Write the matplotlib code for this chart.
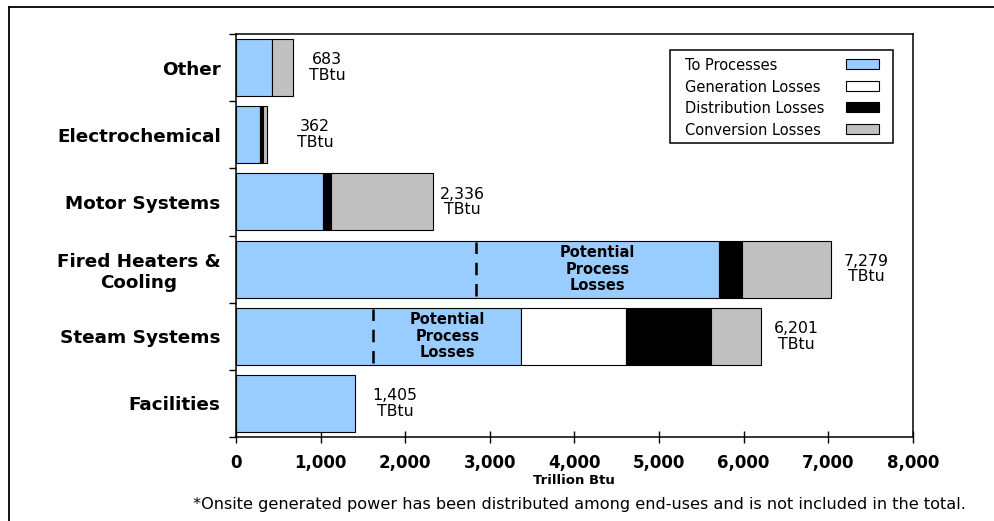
import matplotlib.pyplot as plt
import numpy as np
from matplotlib.patches import Rectangle
from matplotlib.lines import Line2D

plt.rcParams['font.family'] = ['DejaVu Sans']

# categories bottom -> top
categories = ['Facilities', 'Steam Systems', 'Fired Heaters &\nCooling',
              'Motor Systems', 'Electrochemical', 'Other']
to_processes = [1405, 3375, 5715, 1030, 285, 425]
generation_losses = [0, 1230, 0, 0, 0, 0]
distribution_losses = [0, 1005, 270, 95, 35, 0]
conversion_losses = [0, 595, 1045, 1205, 45, 250]
total_labels = ['1,405', '6,201', '7,279', '2,336', '362', '683']
# where the "potential process losses" part of To Processes begins
potential_start = [None, 1620, 2835, None, None, None]

series_names = ['To Processes', 'Generation Losses', 'Distribution Losses', 'Conversion Losses']
series_colors = ['#99CCFF', 'white', 'black', '#C0C0C0']
xticks = [0, 1000, 2000, 3000, 4000, 5000, 6000, 7000, 8000]

# label offsets from bar end, in pixels (hand placed in original)
label_dx = [40, 35, 36, 29, 48, 34]

fig = plt.figure(figsize=(9.95, 5.21), dpi=100)
ax = fig.add_axes([0.2372, 0.1612, 0.6801, 0.7735])

y = np.arange(len(categories))
series = [to_processes, generation_losses, distribution_losses, conversion_losses]
left = np.zeros(len(categories))
for vals, col in zip(series, series_colors):
    vals = np.array(vals, dtype=float)
    for i in range(len(categories)):
        if vals[i] > 0:
            ax.barh(y[i], vals[i], left=left[i], height=0.85, color=col,
                    edgecolor='black', linewidth=0.8, zorder=2)
    left += vals

# value labels
for i in range(len(categories)):
    ax.annotate(total_labels[i] + '\nTBtu', xy=(left[i], y[i]),
                xytext=(label_dx[i] * 0.72, 0), textcoords='offset points',
                ha='center', va='center', fontsize=11.3, linespacing=1.05)

# dashed lines + potential process losses text
for i, xs in enumerate(potential_start):
    if xs is None:
        continue
    ax.plot([xs, xs], [y[i] - 0.4, y[i] + 0.4], color='black', lw=1.8,
            dashes=(5, 3.5), zorder=3)
    ax.text((xs + to_processes[i]) / 2, y[i], 'Potential\nProcess\nLosses',
            ha='center', va='center', fontsize=10.5, fontweight='bold',
            linespacing=1.12, zorder=3)

ax.set_xlim(0, 8000)
ax.set_ylim(-0.5, 5.5)
ax.set_xticks(xticks)
ax.set_xticklabels([f'{v:,}' for v in xticks], fontsize=12, fontweight='bold')
ax.tick_params(axis='x', direction='inout', length=8, width=1, pad=8)

ax.set_yticks(y)
ax.set_yticklabels(categories, fontsize=13.2, fontweight='bold', multialignment='center')
ax.set_yticks(np.arange(-0.5, len(categories)), minor=True)
ax.tick_params(axis='y', which='major', length=0, pad=11)
ax.tick_params(axis='y', which='minor', direction='out', length=5, width=1)

for s in ax.spines.values():
    s.set_linewidth(1.1)

# legend box, drawn by hand (text left, swatch right)
ax.add_patch(Rectangle((0.641, 0.7295), 0.33, 0.2305, transform=ax.transAxes,
                       facecolor='white', edgecolor='black', lw=1.1, zorder=4))
rows = [0.9256, 0.871, 0.819, 0.764]
for name, col, ry in zip(series_names, series_colors, rows):
    ax.text(0.663, ry, name, transform=ax.transAxes, fontsize=10.5,
            va='center_baseline', ha='left', zorder=5)
    ax.add_patch(Rectangle((0.901, ry - 0.012), 0.049, 0.024, transform=ax.transAxes,
                           facecolor=col, edgecolor='black', lw=0.8, zorder=5))

fig.text(574 / 995, 1 - 481 / 521, 'Trillion Btu', ha='center', va='center',
         fontsize=9.5, fontweight='bold')
fig.text(579 / 995, 1 - 505 / 521,
         '*Onsite generated power has been distributed among end-uses and is not included in the total.',
         ha='center', va='center', fontsize=11.6)

# outer frame (top and left edges)
fig.add_artist(Line2D([9 / 995, 1.0], [1 - 7 / 521, 1 - 7 / 521], color='black', lw=1.3))
fig.add_artist(Line2D([9 / 995, 9 / 995], [0, 1 - 7 / 521], color='black', lw=1.3))

fig.savefig('out.png', dpi=100)
